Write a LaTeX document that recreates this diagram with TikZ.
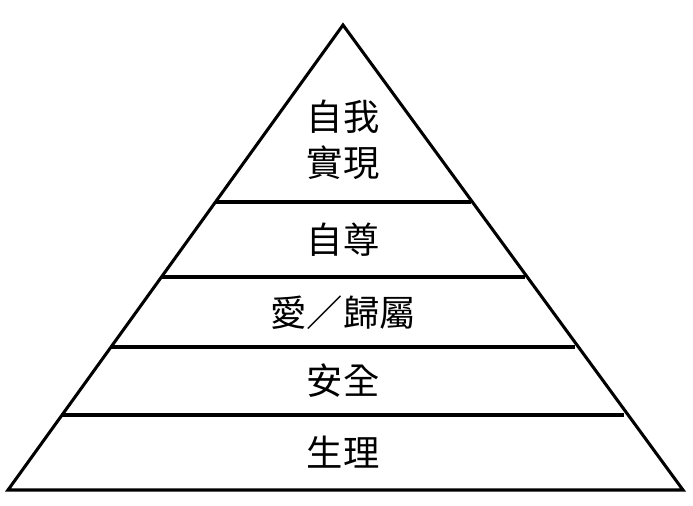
\documentclass[tikz,border=0pt]{standalone}
\usepackage{fontspec}
\newfontfamily\cjk{Noto Sans CJK TC}
\begin{document}
\begin{tikzpicture}[x=0.03cm,y=-0.03cm,
  edge/.style={line width=2.6pt,line join=miter},
  lvl/.style={font=\cjk\fontsize{31}{39}\selectfont,align=center,inner sep=0pt}]
\useasboundingbox[fill=white] (0,0) rectangle (693,506);
\coordinate (apex) at (343,25);
\coordinate (bl) at (8,490);
\coordinate (br) at (683,490);
\draw[edge] (apex) -- (br) -- (bl) -- cycle;
\coordinate (a1) at (215.5,202); \coordinate (b1) at (470.5,202);
\coordinate (a2) at (161.5,277); \coordinate (b2) at (524.5,277);
\coordinate (a3) at (111,347); \coordinate (b3) at (575,347);
\coordinate (a4) at (62,415); \coordinate (b4) at (624,415);
\draw[edge] (a1) -- (b1);
\draw[edge] (a2) -- (b2);
\draw[edge] (a3) -- (b3);
\draw[edge] (a4) -- (b4);
\node[lvl] (t1) at (343,140) {自我\\實現};
\node[lvl] (t2) at (343,240) {自尊};
\node[lvl] (t3) at (343,313) {愛／歸屬};
\node[lvl] (t4) at (343,381) {安全};
\node[lvl] (t5) at (343,452) {生理};
\end{tikzpicture}
\end{document}
